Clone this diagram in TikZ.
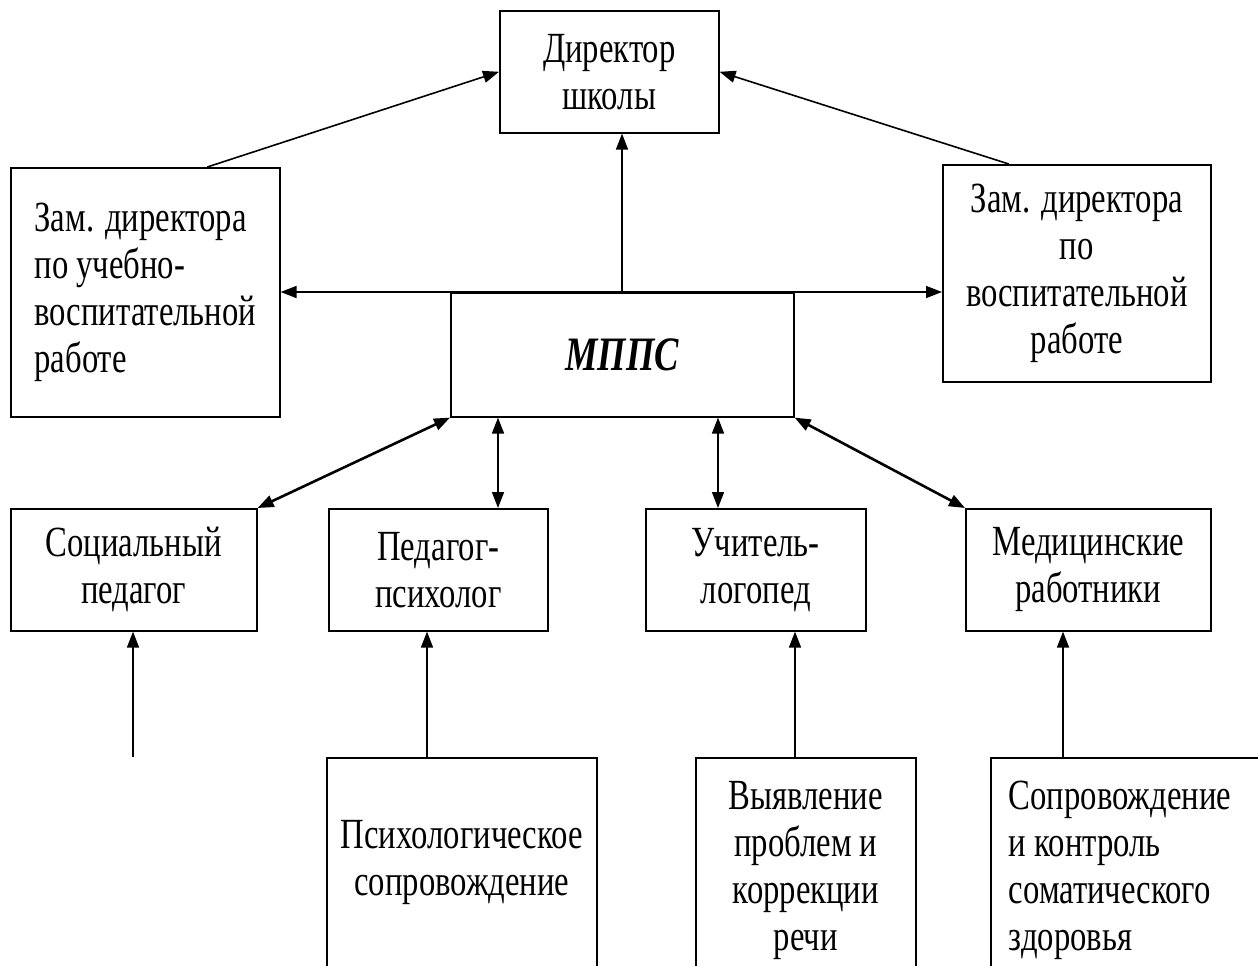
\documentclass[tikz,border=0pt]{standalone}
\usepackage{fontspec}
\setmainfont{Liberation Serif}[FakeStretch=0.76]
\usetikzlibrary{arrows.meta}
\begin{document}
\begin{tikzpicture}[x=1pt,y=-1pt,
  box/.style={draw, line width=1.6pt, inner sep=0pt, align=center, anchor=north west,
    font=\fontsize{43}{47}\selectfont},
  tip/.tip={Triangle[length=16pt,width=12pt]},
  arr/.style={line width=1.6pt, -tip},
  darr/.style={line width=1.6pt, tip-tip},
  thick arr/.style={line width=2.6pt, tip-tip}]
\useasboundingbox (0,0) rectangle (1258,966);
\clip (0,0) rectangle (1258,966);
\fill[white] (0,0) rectangle (1258,966);

\node[box, minimum width=219pt, minimum height=122pt] (dir) at (499,10) {Директор\\школы};
\node[box, minimum width=269pt, minimum height=249pt, align=left] (lz) at (10,167) {Зам. директора\\по учебно-\\воспитательной\\работе};
\node[box, minimum width=268pt, minimum height=217pt] (rz) at (942,164) {Зам. директора\\по\\воспитательной\\работе};
\node[box, minimum width=343pt, minimum height=124pt, font=\fontsize{48}{52}\selectfont\bfseries\itshape] (mpps) at (450,292) {МППС};

\node[box, minimum width=246pt, minimum height=122pt] (soc) at (10,508) {Социальный\\педагог};
\node[box, minimum width=219pt, minimum height=122pt] (psy) at (328,508) {Педагог-\\психолог};
\node[box, minimum width=220pt, minimum height=122pt] (log) at (645,508) {Учитель-\\логопед};
\node[box, minimum width=245pt, minimum height=122pt] (med) at (965,508) {Медицинские\\работники};

\node[box, minimum width=270pt, minimum height=210pt] (psyb) at (326,757) {Психологическое\\сопровождение};
\node[box, minimum width=220pt, minimum height=226pt] (logb) at (695,757) {Выявление\\проблем и\\коррекции\\речи};
\node[box, minimum width=290pt, minimum height=226pt, align=flush left, text width=254pt, inner xsep=18pt] (medb) at (990,757) {Сопровождение\\и контроль\\соматического\\здоровья};

\coordinate (socfree) at (133,757);

% top connectors
\draw[arr] ([xshift=62pt]lz.north) -- (dir.west);
\draw[arr] ([xshift=-68pt]rz.north) -- (dir.east);
\draw[arr] ([xshift=172pt]mpps.north west) -- ([xshift=123pt]dir.south west);
\draw[line width=1.6pt, tip-tip] (lz.east |- mpps.north) -- (rz.west |- mpps.north);

% MPPS to lower row
\draw[thick arr] (mpps.south west) -- (soc.north east);
\draw[darr] ([xshift=48pt]mpps.south west) -- ([xshift=48pt]mpps.south west |- psy.north);
\draw[darr] ([xshift=268pt]mpps.south west) -- ([xshift=268pt]mpps.south west |- log.north);
\draw[thick arr] (mpps.south east) -- (med.north west);

% bottom connectors
\draw[arr] (socfree) -- (socfree |- soc.south);
\draw[arr] ([xshift=101pt]psyb.north west) -- ([xshift=101pt]psyb.north west |- psy.south);
\draw[arr] ([xshift=100pt]logb.north west) -- ([xshift=100pt]logb.north west |- log.south);
\draw[arr] ([xshift=73pt]medb.north west) -- ([xshift=73pt]medb.north west |- med.south);
\end{tikzpicture}
\end{document}
